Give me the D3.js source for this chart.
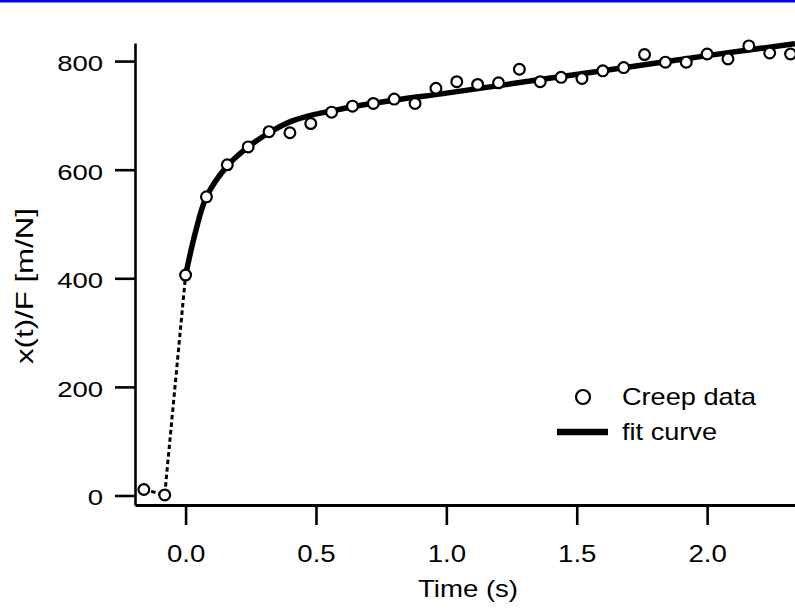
<!DOCTYPE html>
<html>
<head>
<meta charset="utf-8">
<script src="https://cdn.jsdelivr.net/npm/d3@7"></script>
<style>
  body { margin: 0; background: #fff; }
  text { font-family: "Liberation Sans", Arial, Helvetica, sans-serif; fill: #000; }
</style>
</head>
<body>
<div id="display"></div>
<script>
let w = 795;
let h = 613;

// creep data (time in s, x(t)/F in m/N)
const times = [-0.16, -0.08, 0.00, 0.08, 0.16, 0.24, 0.32, 0.40, 0.48, 0.56, 0.64, 0.72,
               0.80, 0.88, 0.96, 1.04, 1.12, 1.20, 1.28, 1.36, 1.44, 1.52, 1.60, 1.68,
               1.76, 1.84, 1.92, 2.00, 2.08, 2.16, 2.24, 2.32];
const creep = [11, 1, 406, 550, 609, 642, 670, 668, 685, 706, 717, 722,
               730, 722, 750, 762, 757, 760, 785, 762, 770, 768, 782, 788,
               812, 798, 798, 813, 804, 828, 815, 813];

// fit curve
const fitTimes = [0, 0.04, 0.08, 0.16, 0.24, 0.32, 0.40, 0.48, 0.56, 0.64, 0.80, 1.00, 1.36, 1.74, 2.00, 2.337];
const fitValues = [406, 489, 550, 607, 642, 668, 688, 700, 708, 716, 728, 741, 766, 792, 810, 832];

const xTicks = [0, 0.5, 1.0, 1.5, 2.0];
const yTicks = [0, 200, 400, 600, 800];

let viz = d3.select('#display')
            .append('svg')
                .attr('width', w)
                .attr('height', h)
                .style('background-color', 'white');

// blue rule along the top
viz.append('rect')
    .attr('x', 0).attr('y', 0)
    .attr('width', w).attr('height', 2.5)
    .attr('fill', '#0000f0');

let xScale = d3.scaleLinear().domain([-0.194, 2.337]).range([135, 795]);
let yScale = d3.scaleLinear().domain([-17.5, 833.3]).range([505, 43]);

// axes
let xAxis = d3.axisBottom(xScale)
    .tickValues(xTicks)
    .tickFormat(d3.format('.1f'))
    .tickSize(20)
    .tickSizeOuter(0);
let gx = viz.append('g')
    .attr('class', 'xaxis')
    .attr('transform', 'translate(0,' + 505 + ')')
    .call(xAxis);
gx.select('.domain').attr('stroke', '#000').attr('stroke-width', 3);
gx.selectAll('.tick line').attr('stroke', '#000').attr('stroke-width', 2.6);
gx.selectAll('.tick text')
    .attr('y', 57)
    .attr('dy', 0)
    .attr('transform', 'scale(1.15,1)')
    .style('font-size', '24px')
    .style('fill', '#000');

let yAxis = d3.axisLeft(yScale)
    .tickValues(yTicks)
    .tickSize(20)
    .tickSizeOuter(0);
let gy = viz.append('g')
    .attr('class', 'yaxis')
    .attr('transform', 'translate(' + 135 + ',0)')
    .call(yAxis);
gy.select('.domain').attr('stroke', '#000').attr('stroke-width', 2.6);
gy.selectAll('.tick line').attr('stroke', '#000').attr('stroke-width', 2.6);
gy.selectAll('.tick text')
    .attr('x', -32 / 1.25)
    .attr('dy', '0.43em')
    .attr('transform', 'scale(1.25,1)')
    .style('font-size', '22px')
    .style('fill', '#000');

// axis titles
viz.append('text')
    .attr('transform', 'translate(468,597) scale(1.2,1)')
    .attr('text-anchor', 'middle')
    .style('font-size', '23px')
    .text('Time (s)');

viz.append('text')
    .attr('transform', 'translate(33,286) rotate(-90) scale(1.3,1)')
    .attr('text-anchor', 'middle')
    .style('font-size', '24px')
    .text('x(t)/F [m/N]');

// dotted jump before the fit
let jump = times.slice(0, 3).map((t, i) => [t, creep[i]]);
viz.append('path')
    .datum(jump)
    .attr('fill', 'none')
    .attr('stroke', '#000')
    .attr('stroke-width', 3)
    .attr('stroke-dasharray', '4.5,3')
    .attr('d', d3.line().x(d => xScale(d[0])).y(d => yScale(d[1])));

// fit curve
let fit = fitTimes.map((t, i) => [t, fitValues[i]]);
viz.append('path')
    .datum(fit)
    .attr('fill', 'none')
    .attr('stroke', '#000')
    .attr('stroke-width', 5.5)
    .attr('stroke-linecap', 'butt')
    .attr('d', d3.line().curve(d3.curveCatmullRom.alpha(0.5)).x(d => xScale(d[0])).y(d => yScale(d[1])));

// creep data circles
viz.selectAll('circle.pt')
    .data(times.map((t, i) => ({ t: t, v: creep[i] })))
    .enter()
    .append('circle')
        .attr('class', 'pt')
        .attr('cx', d => xScale(d.t))
        .attr('cy', d => yScale(d.v))
        .attr('r', 5.4)
        .attr('fill', 'white')
        .attr('stroke', '#000')
        .attr('stroke-width', 2.2);

// legend
let legend = viz.append('g').attr('class', 'legend');
legend.append('circle')
    .attr('cx', 583).attr('cy', 397)
    .attr('r', 7)
    .attr('fill', 'white')
    .attr('stroke', '#000')
    .attr('stroke-width', 2.2);
legend.append('line')
    .attr('x1', 557).attr('x2', 608)
    .attr('y1', 432).attr('y2', 432)
    .attr('stroke', '#000')
    .attr('stroke-width', 6.5);
legend.append('text')
    .attr('transform', 'translate(622,405) scale(1.18,1)')
    .style('font-size', '23px')
    .text('Creep data');
legend.append('text')
    .attr('transform', 'translate(622,440) scale(1.18,1)')
    .style('font-size', '23px')
    .text('fit curve');
</script>
</body>
</html>
